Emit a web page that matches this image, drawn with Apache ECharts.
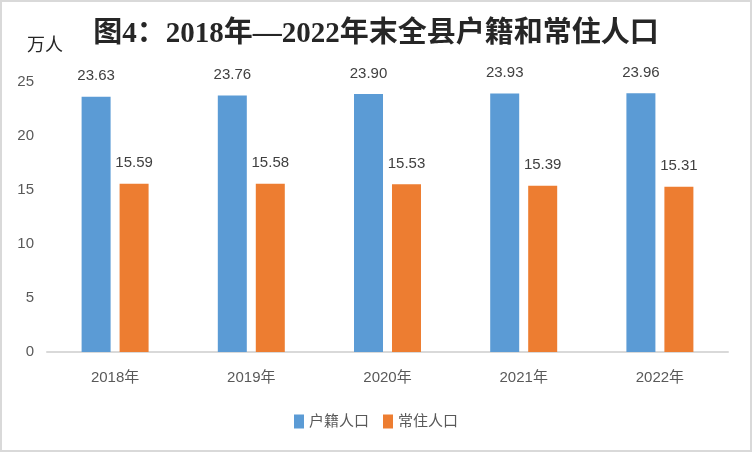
<!DOCTYPE html>
<html><head><meta charset="utf-8">
<script src="https://cdn.jsdelivr.net/npm/echarts@6/dist/echarts.min.js"></script>
<style>html,body{margin:0;padding:0;background:#fff}#c{width:752px;height:452px}</style>
</head><body><div id="c"></div>
<script>
const categories = ['2018年','2019年','2020年','2021年','2022年'];
const huji = [23.63, 23.76, 23.90, 23.93, 23.96];
const changzhu = [15.59, 15.58, 15.53, 15.39, 15.31];
const yTicks = [0, 5, 10, 15, 20, 25];

const chart = echarts.init(document.getElementById('c'));
const font = '"Liberation Sans","Noto Sans CJK SC",sans-serif';
chart.setOption({
  backgroundColor: '#fff',
  animation: false,
  graphic: [{
    type: 'rect', shape: {x: 1, y: 1, width: 750, height: 450},
    style: {fill: 'none', stroke: '#d9d9d9', lineWidth: 2}, silent: true
  }],
  title: {
    text: '图4：2018年—2022年末全县户籍和常住人口',
    left: 'center', top: 15,
    textStyle: {fontFamily: '"Liberation Serif","Noto Sans CJK SC",serif', fontWeight: 'bold', fontSize: 29, color: '#262626'}
  },
  legend: {
    bottom: 18, left: 'center',
    itemWidth: 10, itemHeight: 14, itemGap: 14,
    icon: 'rect',
    textStyle: {fontFamily: font, fontSize: 15, color: '#595959'},
    data: ['户籍人口', '常住人口']
  },
  grid: {left: 47, right: 24, top: 82, bottom: 100, containLabel: false},
  xAxis: {
    type: 'category', data: categories,
    axisLine: {lineStyle: {color: '#d9d9d9', width: 2}},
    axisTick: {show: false},
    axisLabel: {fontFamily: font, fontSize: 15, color: '#595959', margin: 18}
  },
  yAxis: {
    type: 'value', min: yTicks[0], max: yTicks[yTicks.length-1], interval: 5,
    name: '万人', nameLocation: 'end', nameGap: 27,
    nameTextStyle: {fontFamily: font, fontSize: 18, color: '#262626', align: 'center', padding: [0, 0, 0, -4]},
    axisLine: {show: false}, axisTick: {show: false},
    splitLine: {show: false},
    axisLabel: {fontFamily: font, fontSize: 15, color: '#595959', margin: 13}
  },
  series: [
    {name: '户籍人口', type: 'bar', data: huji, barWidth: 29, barGap: '31%',
     itemStyle: {color: '#5B9BD5'},
     label: {show: true, position: 'top', distance: 13, fontFamily: font, fontSize: 15, color: '#404040', formatter: p => p.value.toFixed(2)}},
    {name: '常住人口', type: 'bar', data: changzhu, barWidth: 29,
     itemStyle: {color: '#ED7D31'},
     label: {show: true, position: 'top', distance: 13, fontFamily: font, fontSize: 15, color: '#404040', formatter: p => p.value.toFixed(2)}}
  ]
});
</script></body></html>
